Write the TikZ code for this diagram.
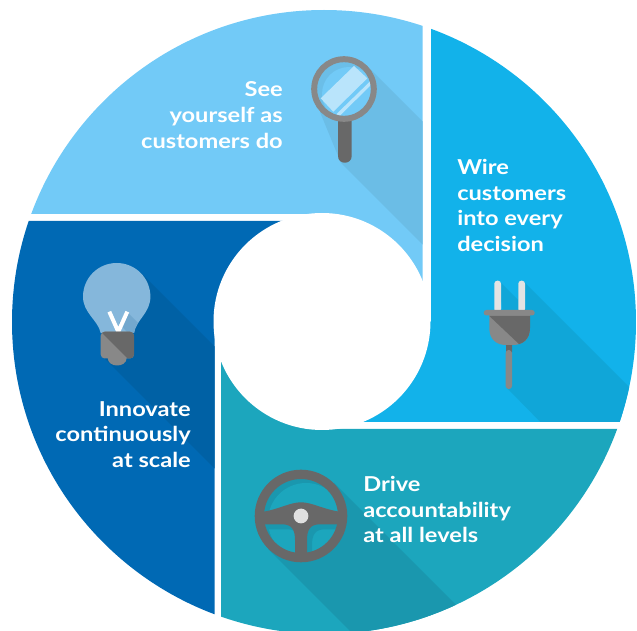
\documentclass[tikz,border=0pt]{standalone}
\usepackage{fontspec}
\setmainfont{Lato}[FakeStretch=1.15]
\definecolor{skyseg}{RGB}{114,202,247}
\definecolor{skyshade}{RGB}{107,189,230}
\definecolor{wireseg}{RGB}{18,178,234}
\definecolor{wireshade}{RGB}{16,166,216}
\definecolor{driveseg}{RGB}{28,166,189}
\definecolor{driveshade}{RGB}{26,151,174}
\definecolor{innoseg}{RGB}{0,105,180}
\definecolor{innoshade}{RGB}{0,97,165}
\definecolor{icondark}{RGB}{104,104,104}
\definecolor{iconmid}{RGB}{136,136,136}
\tikzset{
	seglabel/.style={text=white,font=\fontsize{15.4}{19.2}\selectfont\bfseries,inner sep=0pt},
}
\begin{document}
\begin{tikzpicture}[x=0.75pt,y=0.75pt,yscale=-1,xscale=1]
	\useasboundingbox (0,0) rectangle (637,631);
	\begin{scope}
		\clip (324,322) circle (312);
		% See yourself
		\begin{scope}
			\clip (0,0) -- (422.5,0) -- (422.5,321.5) -- (322,321.5) -- (322,214) -- (0,214) -- cycle;
			\fill [skyseg] (0,0) rectangle (637,640);
			\fill [skyshade] (367,66) -- (440,139) -- (440,262) -- (341,163) -- (320,112) -- cycle;
		\end{scope}
		% Wire customers
		\begin{scope}
			\clip (431,0) -- (637,0) -- (637,422) -- (322,422) -- (322,321.5) -- (431,321.5) -- cycle;
			\fill [wireseg] (0,0) rectangle (637,640);
			\fill [wireshade] (525,283) -- (660,418) -- (660,440) -- (558,440) -- (507,388) -- (507,340) -- (501,300) -- (501,283) -- (518,300) -- (518,283) -- cycle;
		\end{scope}
		% Drive accountability
		\begin{scope}
			\clip (637,429) -- (637,640) -- (221,640) -- (221,321.5) -- (322,321.5) -- (322,429) -- cycle;
			\fill [driveseg] (0,0) rectangle (637,640);
			\fill [driveshade] (334,483) -- (500,649) -- (368,649) -- (268,549) -- cycle;
		\end{scope}
		% Innovate
		\begin{scope}
			\clip (0,221) -- (322,221) -- (322,321.5) -- (214.5,321.5) -- (214.5,640) -- (0,640) -- cycle;
			\fill [innoseg] (0,0) rectangle (637,640);
			\fill [innoshade] (140.5,272.5) -- (240,372) -- (240,494) -- (101,355) -- cycle;
		\end{scope}
	\end{scope}
	% centre hole
	\fill [white] (322,321.5) circle (108.5);
	
	% magnifier
	\fill [icondark] (338,118) -- (351.7,118) -- (351.7,156) .. controls (351.7,165) and (338,165) .. (338,156) -- cycle;
	\fill [skyseg!94!black] (344,89) circle (27);
	\begin{scope}
		\clip (344,89) circle (27);
		\fill [skyseg] (349,94) circle (27);
		\fill [white!50!skyseg] (320.7,98.3) -- (354,66) -- (367.3,78.3) -- (333.3,111.7) -- cycle;
		\fill [white!50!skyseg] (336.5,114) -- (370,81.5) -- (372,84) -- (339,116.5) -- cycle;
	\end{scope}
	\draw [iconmid,line width=4.5pt] (344,89) circle (29.8);
	
	% plug
	\fill [icondark] (505.7,340) rectangle (512,355);
	\fill [iconmid,rounded corners=2.2pt] (505.7,350) -- (505.7,389) -- (512,389) -- (512,350) -- cycle;
	\fill [icondark] (505.7,345) -- (512,345) -- (512,352) -- cycle;
	\fill [white!89!black,rounded corners=2.2pt] (494.3,312) -- (494.3,280.7) -- (501,280.7) -- (501,312) -- cycle;
	\fill [white!89!black,rounded corners=2.2pt] (518.3,312) -- (518.3,280.7) -- (525,280.7) -- (525,312) -- cycle;
	\begin{scope}
		\clip (489.3,315) -- (530,315) -- (530,328) .. controls (530,339) and (523,345) .. (513,345) -- (506,345) .. controls (496,345) and (489.3,339) .. (489.3,328) -- cycle;
		\fill [iconmid] (489,315) rectangle (531,346);
		\fill [icondark] (489.3,316) -- (531,316) -- (531,346) -- (520,345) -- cycle;
	\end{scope}
	\fill [iconmid,rounded corners=2pt] (483.7,310) rectangle (534.7,315.5);
	
	% wheel
	\begin{scope}
		\clip (301,516) circle (37.5);
		\fill [driveshade] (301,516) circle (38);
		\fill [driveseg] (306,521) circle (38);
		\fill [driveshade] (267,517) .. controls (285,514) and (295,507.3) .. (306,507.3) .. controls (317,507.3) and (327,514) .. (346,517) -- (346,529.3) -- (325,529.3) .. controls (315,529.3) and (312,535) .. (312,545) -- (312,561) -- (300,561) -- (300,545) .. controls (300,535) and (297,529.3) .. (287,529.3) -- (267,529.3) -- cycle;
	\end{scope}
	\fill [icondark,even odd rule] (301,516) circle (46.3) (301,516) circle (37);
	\fill [icondark] (262,512) .. controls (280,509) and (290,502.3) .. (301,502.3) .. controls (312,502.3) and (322,509) .. (341,512) -- (341,524.3) -- (320,524.3) .. controls (310,524.3) and (307,530) .. (307,540) -- (307,556) -- (295,556) -- (295,540) .. controls (295,530) and (292,524.3) .. (282,524.3) -- (262,524.3) -- cycle;
	\fill [white!88!black] (301,516) circle (7.4);
	
	% bulb
	\fill [white!52!innoseg] (100.7,333) .. controls (98,320) and (83,313) .. (83,296.7) .. controls (83,278) and (98,263) .. (116.7,263) .. controls (135.4,263) and (150.4,278) .. (150.4,296.7) .. controls (150.4,313) and (136,320) .. (134,333) -- cycle;
	\begin{scope}
		\clip (100.7,333) .. controls (98,320) and (83,313) .. (83,296.7) .. controls (83,278) and (98,263) .. (116.7,263) .. controls (135.4,263) and (150.4,278) .. (150.4,296.7) .. controls (150.4,313) and (136,320) .. (134,333) -- cycle;
		\fill [white!45!innoshade] (119,323) -- (128,313) -- (150,335) -- (134,340) -- cycle;
	\end{scope}
	\draw [white,line width=3pt] (109.3,311.7) -- (118.3,331.7) -- (127.3,311.7);
	\fill [iconmid] (107.7,358) .. controls (108,368) and (126.4,368) .. (126.7,358) -- cycle;
	\begin{scope}
		\clip [rounded corners=3pt] (100.7,331.7) rectangle (134,358.5);
		\fill [iconmid] (100,331) rectangle (135,359);
		\fill [icondark] (100.7,331.7) -- (135,331.7) -- (135,359) -- (128,359) -- cycle;
	\end{scope}
	
	% Text Node
	\node (see) [seglabel,align=right,anchor=east] at (283,115) {See\\yourself as\\customers do};
	% Text Node
	\node (wire) [seglabel,align=left,anchor=west] at (457,205.5) {Wire\\customers\\into every\\decision};
	% Text Node
	\node (drive) [seglabel,align=left,anchor=west] at (363,509.5) {Drive\\accountability\\at all levels};
	% Text Node
	\node (innovate) [seglabel,align=right,anchor=east] at (191,434.5) {Innovate\\continuously\\at scale};
\end{tikzpicture}
\end{document}
